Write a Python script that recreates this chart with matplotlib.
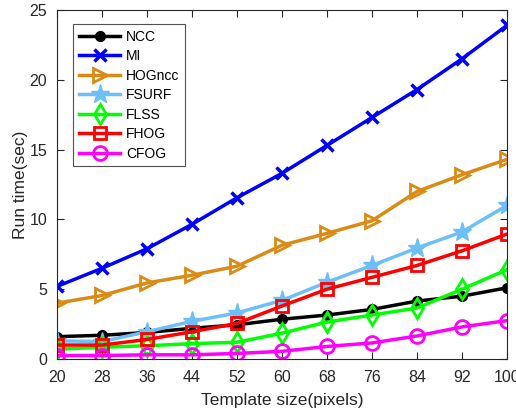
import matplotlib
matplotlib.use("Agg")
import matplotlib.pyplot as plt

plt.rcParams['font.family'] = ['Liberation Sans', 'DejaVu Sans']

sizes = [20, 28, 36, 44, 52, 60, 68, 76, 84, 92, 100]
ncc = [1.6, 1.7, 1.9, 2.2, 2.45, 2.85, 3.15, 3.55, 4.15, 4.5, 5.1]
mi = [5.2, 6.5, 7.9, 9.65, 11.55, 13.3, 15.3, 17.3, 19.3, 21.5, 23.9]
hogncc = [4.0, 4.55, 5.45, 6.0, 6.65, 8.15, 9.0, 9.9, 12.0, 13.2, 14.3]
fsurf = [1.3, 1.25, 1.95, 2.7, 3.3, 4.2, 5.5, 6.7, 7.95, 9.1, 11.0]
flss = [0.7, 0.85, 0.95, 1.1, 1.2, 1.85, 2.65, 3.15, 3.65, 5.0, 6.4]
fhog = [1.0, 1.0, 1.4, 1.95, 2.55, 3.8, 5.0, 5.85, 6.7, 7.75, 8.95]
cfog = [0.25, 0.25, 0.3, 0.3, 0.4, 0.55, 0.9, 1.15, 1.65, 2.3, 2.75]
names = ['NCC', 'MI', 'HOGncc', 'FSURF', 'FLSS', 'FHOG', 'CFOG']

fig = plt.figure(figsize=(5.16, 4.16), dpi=100)
ax = fig.add_axes([0.1105, 0.137, 0.872, 0.839])

styles = [
    dict(color='black', marker='o', mfc='black', ms=7),
    dict(color='#0000FF', marker='x', mfc='none', ms=8, mew=2.5),
    dict(color='#DB8A14', marker='>', mfc='none', ms=10, mew=2),
    dict(color='#6CBFF7', marker='*', mfc='#6CBFF7', ms=14),
    dict(color='#00FF00', marker='d', mfc='none', ms=10, mew=2),
    dict(color='#FF0000', marker='s', mfc='none', ms=9, mew=2),
    dict(color='#FF00FF', marker='o', mfc='none', ms=10, mew=2),
]
series = [ncc, mi, hogncc, fsurf, flss, fhog, cfog]
for name, vals, st in zip(names, series, styles):
    ax.plot(sizes, vals, lw=2.5, label=name, **st)

ax.set_xlim(20, 100)
ax.set_ylim(0, 25)
ax.set_xticks(sizes)
ax.set_yticks([0, 5, 10, 15, 20, 25])
ax.tick_params(direction='in', top=True, right=True, labelsize=11.5, length=5,
               color='#262626', labelcolor='#262626')
ax.tick_params(axis='x', pad=8)
ax.tick_params(axis='y', pad=7)
for sp in ax.spines.values():
    sp.set_color('#262626')
    sp.set_linewidth(0.8)
ax.set_xlabel('Template size(pixels)', fontsize=12.5, color='#262626', labelpad=6)
ax.set_ylabel('Run time(sec)', fontsize=12.5, color='#262626', labelpad=1)

leg = ax.legend(loc='upper left', bbox_to_anchor=(0.036, 0.96), fontsize=10, frameon=True,
                fancybox=False, edgecolor='#262626', handlelength=3.0, labelspacing=0.4,
                borderpad=0.4, handletextpad=0.4, borderaxespad=0)
leg.get_frame().set_linewidth(0.8)

fig.savefig('out.png', dpi=100)
